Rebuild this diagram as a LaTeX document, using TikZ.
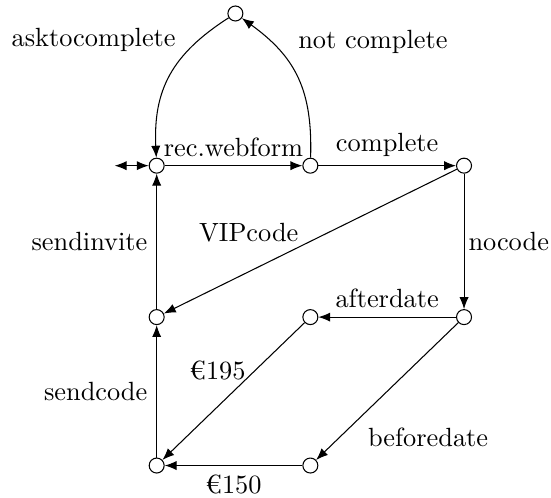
\documentclass[tikz,border=0pt]{standalone}
\usepackage{tikz}
\usetikzlibrary{arrows.meta}

\begin{document}
\begin{tikzpicture}[
  state/.style={circle, draw, thin, fill=white, inner sep=0pt, minimum size=0.2cm},
  trans/.style={-{Latex[length=4.5pt,width=3.5pt]}, thin},
  every node/.style={font=\normalsize},
]
\useasboundingbox (-2.09,-4.43) rectangle (5.26,2.21);

% === States ===
\node[state] (top) at (1.05, 2.03) {};
\node[state] (webform) at (0, 0) {};
\node[state] (check) at (2.05, 0) {};
\node[state] (code) at (4.10, 0) {};
\node[state] (invite) at (0, -2.02) {};
\node[state] (after) at (2.05, -2.02) {};
\node[state] (date) at (4.10, -2.02) {};
\node[state] (pay) at (0, -4.00) {};
\node[state] (before) at (2.05, -4.00) {};
\coordinate (start) at (-0.56, 0);

% === Entry ===
\draw[{Latex[length=4.5pt,width=3.5pt]}-{Latex[length=4.5pt,width=3.5pt]}, thin] (start) -- (webform);

% === Upper loop ===
\draw[trans] (webform) -- node[above] {rec.webform} (check);
\draw[trans] (check) to[bend right=28, looseness=1.1]
  node[right, pos=0.75, xshift=5pt, yshift=2pt] {not complete} (top);
\draw[trans] (top) to[bend right=30, looseness=1.1]
  node[left, pos=0.25, xshift=-3pt, yshift=2pt] {asktocomplete} (webform);
\draw[trans] (check) -- node[above] {complete} (code);

% === Code branches ===
\draw[trans] (code) -- node[above left, pos=0.53, inner sep=1pt] {VIPcode} (invite);
\draw[trans] (code) -- node[right, inner sep=1.5pt] {nocode} (date);
\draw[trans] (invite) -- node[left] {sendinvite} (webform);
\draw[trans] (date) -- node[above] {afterdate} (after);
\draw[trans] (date) -- node[below right, pos=0.7] {beforedate} (before);

% === Payment ===
\draw[trans] (after) -- node[left, pos=0.35] {€195} (pay);
\draw[trans] (before) -- node[below] {€150} (pay);
\draw[trans] (pay) -- node[left] {sendcode} (invite);

\end{tikzpicture}
\end{document}
